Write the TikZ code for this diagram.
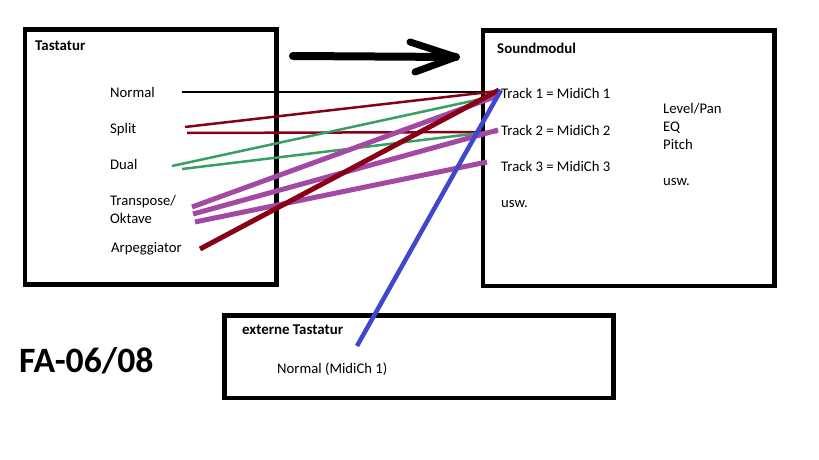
\documentclass[tikz,border=0pt]{standalone}
\usepackage{fontspec}
\setmainfont{Carlito}
\definecolor{darkred}{RGB}{136, 0, 21}
\definecolor{wirecolgreen}{RGB}{56, 158, 98}
\definecolor{wirecolpurple}{RGB}{163, 73, 164}
\definecolor{wirecolblue}{RGB}{63, 72, 204}
\tikzset{
  entry/.style = {anchor = base west, inner sep = 0pt, font = \fontsize{14.7}{18}\selectfont},
  boxtitle/.style = {anchor = base west, inner sep = 0pt, font = \fontsize{14.9}{18}\selectfont\bfseries},
  box/.style = {line width = 4.7pt},
  thinwire/.style = {line width = 2.5pt},
  thickwire/.style = {line width = 5pt}
}

\begin{document}
\begin{tikzpicture}[x = 1pt, y = -1pt]
\useasboundingbox (0, 0) rectangle (819, 460);
\draw[box] (25, 29.5) rectangle (276.5, 284.5);
\draw[box] (483, 30.5) rectangle (774.5, 286);
\draw[box] (224.5, 315.5) rectangle (613.5, 398);
\node[boxtitle] (tastatur) at (35, 51) {Tastatur};
\node[entry] (normal) at (110, 97) {Normal};
\node[entry] (split) at (110, 133) {Split};
\node[entry] (dual) at (110, 169) {Dual};
\node[entry] (transpose) at (110, 205) {Transpose/};
\node[entry] (oktave) at (110, 223) {Oktave};
\node[entry] (arpeggiator) at (111, 252) {Arpeggiator};
\node[boxtitle] (soundmodul) at (497, 53) {Soundmodul};
\node[entry] (track1) at (501, 99) {Track 1 = MidiCh 1};
\node[entry] (track2) at (501, 135) {Track 2 = MidiCh 2};
\node[entry] (track3) at (501, 171) {Track 3 = MidiCh 3};
\node[entry] (uswleft) at (501, 207) {usw.};
\node[entry] (levelpan) at (663, 113) {Level/Pan};
\node[entry] (eq) at (663, 131) {EQ};
\node[entry] (pitch) at (663, 149) {Pitch};
\node[entry] (uswright) at (663, 185) {usw.};
\node[boxtitle] (externe) at (242, 334) {externe Tastatur};
\node[entry] (extnormal) at (277, 373) {Normal (MidiCh 1)};
\node[anchor = base west, inner sep = 0pt, font = \fontsize{35.7}{40}\selectfont\bfseries] (model) at (19, 372) {FA-06/08};
\coordinate (arrowstart) at (293, 56);
\coordinate (arrowtip) at (456, 57);
\coordinate (arrowup) at (410, 42);
\coordinate (arrowdown) at (415, 72);
\draw[line width = 8pt, line cap = round] (arrowstart) -- (arrowtip);
\draw[line width = 7pt, line cap = round, line join = round] (arrowup) -- (arrowtip) -- (arrowdown);
\coordinate (normalout) at (182, 92);
\coordinate (splitouta) at (185, 127);
\coordinate (splitoutb) at (187, 133);
\coordinate (dualouta) at (172, 166);
\coordinate (dualoutb) at (182, 169);
\coordinate (transouta) at (192, 207);
\coordinate (transoutb) at (193, 214);
\coordinate (transoutc) at (195, 222);
\coordinate (arpout) at (200, 249);
\coordinate (extout) at (357, 346);
\coordinate (trackina) at (500, 92);
\coordinate (trackinb) at (498, 91);
\coordinate (trackinc) at (497, 132);
\coordinate (trackind) at (495, 96);
\coordinate (trackine) at (497, 131);
\coordinate (trackinf) at (497, 96);
\coordinate (trackinh) at (498, 130);
\coordinate (trackinj) at (487, 162);
\coordinate (trackink) at (499, 90);
\coordinate (trackinm) at (501, 90);
\draw[line width = 2pt] (normalout) -- (trackina);
\draw[thinwire, darkred] (splitouta) -- (trackinb);
\draw[thinwire, darkred] (splitoutb) -- (trackinc);
\draw[thinwire, wirecolgreen] (dualouta) -- (trackind);
\draw[thinwire, wirecolgreen] (dualoutb) -- (trackine);
\draw[thickwire, wirecolpurple] (transouta) -- (trackinf);
\draw[thickwire, wirecolpurple] (transoutb) -- (trackinh);
\draw[thickwire, wirecolpurple] (transoutc) -- (trackinj);
\draw[thickwire, darkred] (arpout) -- (trackink);
\draw[line width = 4.5pt, wirecolblue] (extout) -- (trackinm);
\end{tikzpicture}
\end{document}
